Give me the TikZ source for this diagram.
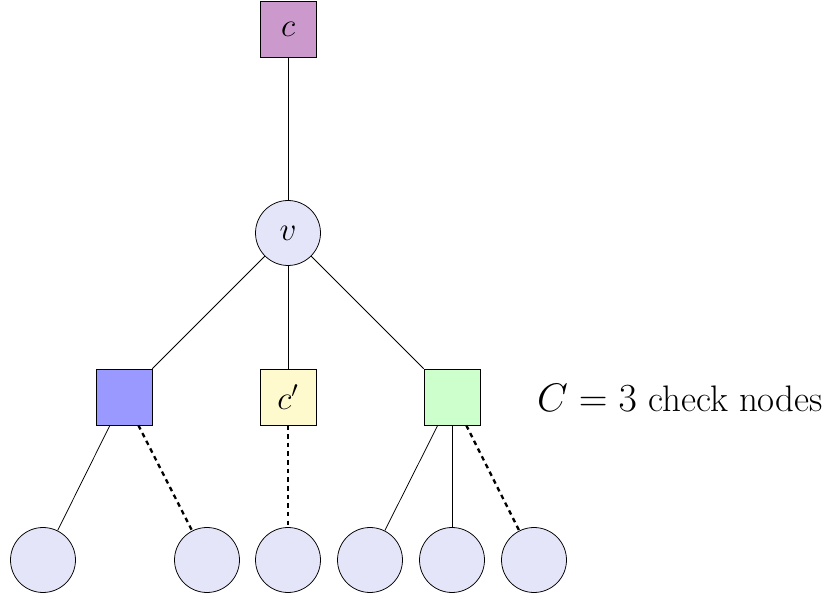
\documentclass[tikz,border=0pt]{standalone}
\begin{document}
\begin{tikzpicture}[x=0.01828cm,y=-0.01828cm,
  chk/.style={draw,rectangle,minimum size=29.1pt,inner sep=0pt,font=\fontsize{17.6}{21}\selectfont},
  var/.style={draw,circle,minimum size=33.8pt,inner sep=0pt,fill=lav,font=\fontsize{17.6}{21}\selectfont},
  dsh/.style={line width=1.2pt,dash pattern=on 2.4pt off 2.1pt}]
\definecolor{lav}{RGB}{229,229,250}
\definecolor{purp}{RGB}{204,153,204}
\definecolor{blu}{RGB}{153,153,255}
\definecolor{yel}{RGB}{255,250,205}
\definecolor{grn}{RGB}{204,255,204}
\useasboundingbox (0,0) rectangle (824,598);
\node[chk,fill=purp] (c) at (288,29) {$c$};
\node[var] (v) at (288,233) {$v$};
\node[chk,fill=blu] (b1) at (124,397) {};
\node[chk,fill=yel] (b2) at (288,397) {$c'$};
\node[chk,fill=grn] (b3) at (452,397) {};
\node[font=\fontsize{19.2}{23}\selectfont] (lab) at (680,398) {$C=3$ check nodes};
\node[var] (l1) at (43,560) {};
\node[var] (l2) at (207,560) {};
\node[var] (l3) at (288,560) {};
\node[var] (l4) at (370,560) {};
\node[var] (l5) at (452,560) {};
\node[var] (l6) at (534,560) {};
\draw (c) -- (v);
\draw (v) -- (b1);
\draw (v) -- (b2);
\draw (v) -- (b3);
\draw (b1) -- (l1);
\draw[dsh] (b1) -- (l2);
\draw[dsh] (b2) -- (l3);
\draw (b3) -- (l4);
\draw (b3) -- (l5);
\draw[dsh] (b3) -- (l6);
\end{tikzpicture}
\end{document}
